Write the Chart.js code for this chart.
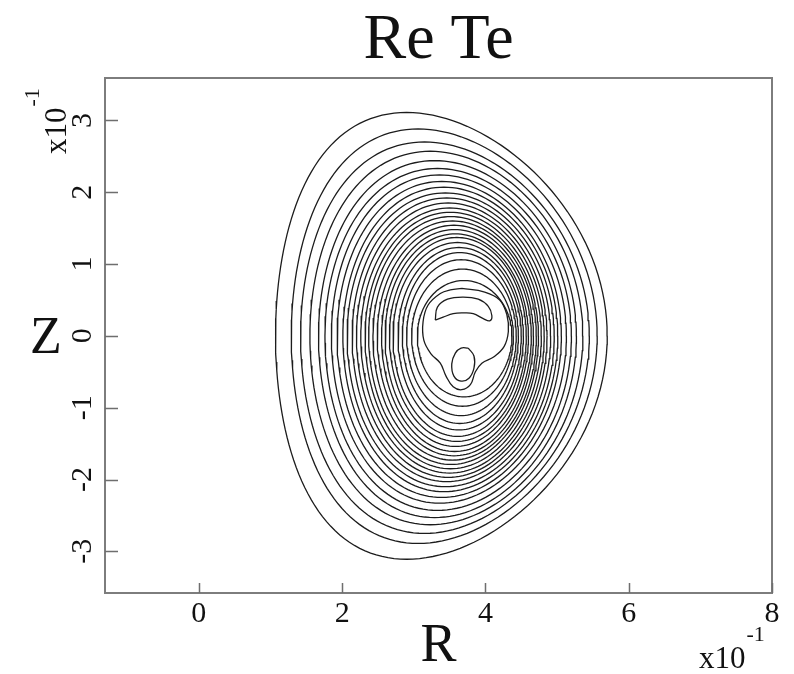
<!DOCTYPE html>
<html>
<head>
<meta charset="utf-8">
<script src="https://cdn.jsdelivr.net/npm/chart.js@4.4.0/dist/chart.umd.min.js"></script>
<style>
    html, body { margin: 0; padding: 0; background: #ffffff; }
    canvas { display: block; }
</style>
</head>
<body>
<canvas id="contourChart" width="794" height="674"></canvas>
<script>
// Re Te contour levels, outermost first (axis units x10^-1)
const levelLeftR   = [1.07, 1.29, 1.42, 1.55, 1.67, 1.76, 1.85, 1.93, 2.01, 2.07, 2.14, 2.20, 2.26, 2.32, 2.37, 2.43, 2.49, 2.55, 2.60, 2.66, 2.71, 2.78, 2.84, 2.90, 2.97, 3.05];
const levelRightR  = [5.70, 5.56, 5.45, 5.36, 5.27, 5.20, 5.13, 5.06, 5.01, 4.96, 4.91, 4.86, 4.82, 4.78, 4.74, 4.71, 4.67, 4.64, 4.60, 4.57, 4.53, 4.50, 4.46, 4.43, 4.39, 4.37];
const levelTopZ    = [3.11, 2.88, 2.70, 2.57, 2.44, 2.33, 2.24, 2.15, 2.07, 1.99, 1.92, 1.85, 1.78, 1.72, 1.66, 1.60, 1.54, 1.48, 1.42, 1.37, 1.30, 1.23, 1.16, 1.06, 0.93, 0.77];
const levelBottomZ = [-3.11, -2.89, -2.75, -2.63, -2.53, -2.43, -2.33, -2.25, -2.17, -2.10, -2.03, -1.97, -1.91, -1.85, -1.79, -1.73, -1.67, -1.61, -1.54, -1.47, -1.40, -1.31, -1.22, -1.11, -0.98, -0.85];
// R where each level reaches its top / bottom
const levelApexR   = [2.90, 3.06, 3.15, 3.23, 3.29, 3.33, 3.36, 3.39, 3.42, 3.44, 3.46, 3.48, 3.50, 3.51, 3.52, 3.54, 3.56, 3.57, 3.58, 3.60, 3.61, 3.63, 3.64, 3.66, 3.68, 3.70];

// irregular levels near the axis
const bulbR     = [3.67, 3.99, 4.20, 4.30, 4.32, 4.26, 4.12, 3.95, 3.86, 3.79, 3.67, 3.55, 3.45, 3.37, 3.24, 3.14, 3.13, 3.20, 3.37, 3.51];
const bulbZ     = [0.66, 0.61, 0.50, 0.29, 0.06, -0.15, -0.29, -0.38, -0.50, -0.68, -0.75, -0.71, -0.56, -0.38, -0.25, -0.06, 0.20, 0.43, 0.59, 0.64];
const crescentR = [3.30, 3.33, 3.47, 3.69, 3.90, 4.04, 4.09, 4.06, 3.97, 3.83, 3.69, 3.55, 3.41];
const crescentZ = [0.22, 0.40, 0.51, 0.54, 0.51, 0.41, 0.28, 0.21, 0.24, 0.31, 0.32, 0.31, 0.26];
const islandR   = [3.76, 3.84, 3.84, 3.77, 3.66, 3.56, 3.53, 3.58, 3.66];
const islandZ   = [-0.17, -0.28, -0.45, -0.59, -0.63, -0.56, -0.39, -0.24, -0.17];

// axes
const xTickValues = [0, 2, 4, 6, 8];
const xTickLabels = ['0', '2', '4', '6', '8'];
const yTickValues = [-3, -2, -1, 0, 1, 2, 3];
const yTickLabels = ['-3', '-2', '-1', '0', '1', '2', '3'];
const xRange = [-1.31, 8];
const yRange = [-3.58, 3.59];

const LINE_COLOR = '#1c1c1c';
const SERIF = '"Liberation Serif", "Times New Roman", serif';

// D-shaped flux surface through the four extents
function levelPoints(i) {
    const r0 = (levelLeftR[i] + levelRightR[i]) / 2;
    const a = (levelRightR[i] - levelLeftR[i]) / 2;
    const delta = Math.asin(Math.max(-0.9, Math.min(0.9, (r0 - levelApexR[i]) / a)));
    const pts = [];
    const n = 160;
    for (let k = 0; k <= n; k++) {
        const t = 2 * Math.PI * k / n;
        const s = Math.sin(t);
        pts.push({
            x: r0 + a * Math.cos(t + delta * s),
            y: s >= 0 ? levelTopZ[i] * s : -levelBottomZ[i] * s
        });
    }
    return pts;
}

function closedPoints(rs, zs) {
    const pts = rs.map((r, k) => ({ x: r, y: zs[k] }));
    pts.push({ x: rs[0], y: zs[0] });
    return pts;
}

const datasets = levelLeftR.map((_, i) => ({
    data: levelPoints(i),
    tension: 0
}));
datasets.push({ data: closedPoints(bulbR, bulbZ), tension: 0.4 });
datasets.push({ data: closedPoints(crescentR, crescentZ), tension: 0.4 });
datasets.push({ data: closedPoints(islandR, islandZ), tension: 0.4 });
datasets.forEach(ds => {
    ds.showLine = true;
    ds.pointRadius = 0;
    ds.borderColor = LINE_COLOR;
    ds.borderWidth = 1.3;
    ds.fill = false;
});

// frame, inward ticks and the serif labels
const axisDecor = {
    id: 'axisDecor',
    afterDraw(chart) {
        const { ctx, chartArea: area } = chart;
        const x = chart.scales.x;
        const y = chart.scales.y;
        ctx.save();

        ctx.strokeStyle = '#7d7d7d';
        ctx.lineWidth = 2;
        ctx.strokeRect(area.left, area.top, area.right - area.left, area.bottom - area.top);

        ctx.strokeStyle = '#6e6e6e';
        ctx.lineWidth = 1.5;
        ctx.beginPath();
        xTickValues.forEach(v => {
            const px = Math.round(x.getPixelForValue(v)) + 0.5;
            ctx.moveTo(px, area.bottom);
            ctx.lineTo(px, area.bottom - 10);
        });
        yTickValues.forEach(v => {
            const py = Math.round(y.getPixelForValue(v)) + 0.5;
            ctx.moveTo(area.left, py);
            ctx.lineTo(area.left + 13, py);
        });
        ctx.stroke();

        ctx.fillStyle = '#111111';
        ctx.textBaseline = 'alphabetic';

        // x tick labels
        ctx.font = '30px ' + SERIF;
        ctx.textAlign = 'center';
        xTickValues.forEach((v, i) => {
            ctx.fillText(xTickLabels[i], x.getPixelForValue(v), area.bottom + 29);
        });

        // y tick labels, written upward
        yTickValues.forEach((v, i) => {
            ctx.save();
            ctx.translate(area.left - 14, y.getPixelForValue(v));
            ctx.rotate(-Math.PI / 2);
            ctx.fillText(yTickLabels[i], 0, 0);
            ctx.restore();
        });

        // x10^-1 multipliers
        ctx.textAlign = 'left';
        ctx.font = '31px ' + SERIF;
        const w = ctx.measureText('x10').width;
        ctx.fillText('x10', 699, 668);
        ctx.font = '22px ' + SERIF;
        ctx.fillText('-1', 699 + w + 1, 641);

        ctx.save();
        ctx.translate(66, 154);
        ctx.rotate(-Math.PI / 2);
        ctx.font = '31px ' + SERIF;
        ctx.fillText('x10', 0, 0);
        ctx.font = '22px ' + SERIF;
        ctx.fillText('-1', w + 1, -27);
        ctx.restore();

        // axis titles and chart title
        ctx.textAlign = 'center';
        ctx.font = '54px ' + SERIF;
        ctx.fillText('R', (area.left + area.right) / 2, 661);
        ctx.font = '52px ' + SERIF;
        ctx.fillText('Z', 46, 353);
        ctx.font = '64px ' + SERIF;
        ctx.fillText('Re Te', (area.left + area.right) / 2, 58);

        ctx.restore();
    }
};

new Chart(document.getElementById('contourChart').getContext('2d'), {
    type: 'scatter',
    data: { datasets },
    options: {
        responsive: false,
        animation: false,
        layout: {
            padding: { left: 105, right: 22, top: 78, bottom: 81 }
        },
        scales: {
            x: { type: 'linear', min: xRange[0], max: xRange[1], display: false },
            y: { type: 'linear', min: yRange[0], max: yRange[1], display: false }
        },
        plugins: {
            legend: { display: false },
            tooltip: { enabled: false }
        }
    },
    plugins: [axisDecor]
});
</script>
</body>
</html>
